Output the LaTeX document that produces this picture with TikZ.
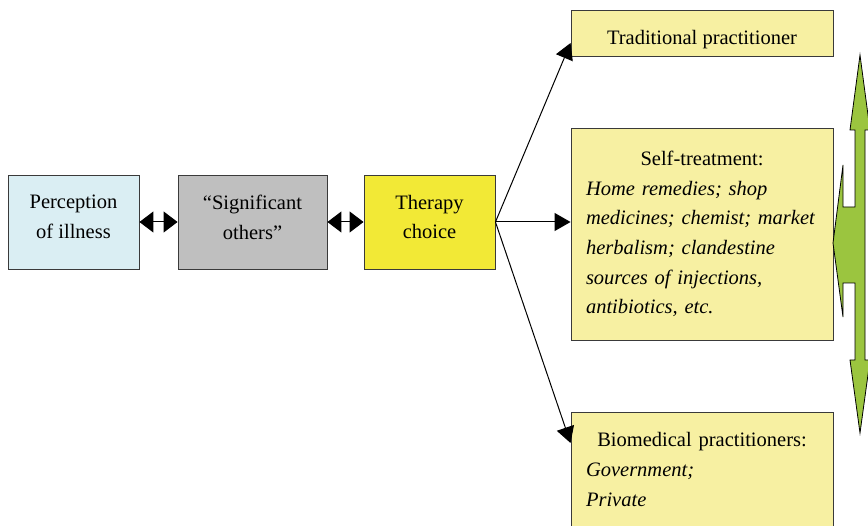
\documentclass[tikz,border=0pt]{standalone}
\usepackage{fontspec}
\setmainfont{Liberation Serif}
\usetikzlibrary{arrows.meta}

\definecolor{paleblue}{HTML}{DAEEF3}
\definecolor{midgray}{HTML}{BFBFBF}
\definecolor{brightyellow}{HTML}{F2E936}
\definecolor{paleyellow}{HTML}{F7F0A2}
\definecolor{leafgreen}{HTML}{9BC53F}
\definecolor{edgegray}{HTML}{3A3A3A}

\tikzset{
  box/.style={draw=edgegray, line width=0.9pt, align=center,
    font=\fontsize{20.5}{29.7}\selectfont, inner sep=0pt},
  chainbox/.style={box, minimum height=94pt, text depth=10pt},
  choicebox/.style={box, fill=paleyellow, minimum width=262pt},
  link/.style={line width=1pt, -{Triangle[length=16pt,width=18pt]}},
  twoway/.style={line width=1pt,
    {Triangle[length=14pt,width=21pt]}-{Triangle[length=14pt,width=21pt]}},
}

\begin{document}
\begin{tikzpicture}[x=1pt, y=-1pt]
  \useasboundingbox (0,0) rectangle (868,526);
  \clip (0,0) rectangle (868,526);

  % left chain
  \node[chainbox, fill=paleblue, minimum width=131pt]
    (perc) at (73.5,222) {Perception\\of illness};
  \node[chainbox, fill=midgray, minimum width=149pt]
    (sig) at (252.5,222) {``Significant\\others''};
  \node[chainbox, fill=brightyellow, minimum width=131pt]
    (ther) at (429.5,222) {Therapy\\choice};

  % therapy options
  \node[choicebox, minimum height=46pt, text height=28pt] (trad) at (702,33)
    {Traditional practitioner};
  \node[choicebox, minimum height=212pt, text width=232pt, align=left,
        inner xsep=15pt] (self) at (702,234)
    {\makebox[232pt][c]{Self-treatment:}\\
     \textit{Home remedies; shop}\\
     \textit{medicines; chemist; market}\\
     \textit{herbalism; clandestine}\\
     \textit{sources of injections,}\\
     \textit{antibiotics, etc.}};
  \node[choicebox, minimum height=124pt, text width=232pt, align=left,
        inner xsep=15pt, anchor=north] (bio) at (702,412)
    {\makebox[232pt][c]{Biomedical practitioners:}\\
     \textit{Government;}\\
     \textit{Private}\rule[-10pt]{0pt}{10pt}};

  % connectors
  \draw[twoway] (perc.east) -- (sig.west);
  \draw[twoway] (sig.east) -- (ther.west);
  \draw[link] (ther.east) -- ([yshift=-10pt]trad.west);
  \draw[link] (ther.east) -- (ther.east -| self.west);
  \draw[link] (ther.east) -- ([yshift=-31pt]bio.north west);

  % three-way arrow linking the options
  \draw[fill=leafgreen, draw=black, line width=0.8pt, line join=miter]
    (860,55) -- (870,130) -- (865,130) -- (865,360) -- (870,360)
    -- (860,433) -- (850,360) -- (855,360) -- (855,283) -- (843,283)
    -- (843,317) -- (833,243) -- (843,165) -- (843,207) -- (855,207)
    -- (855,130) -- (850,130) -- cycle;
\end{tikzpicture}
\end{document}
